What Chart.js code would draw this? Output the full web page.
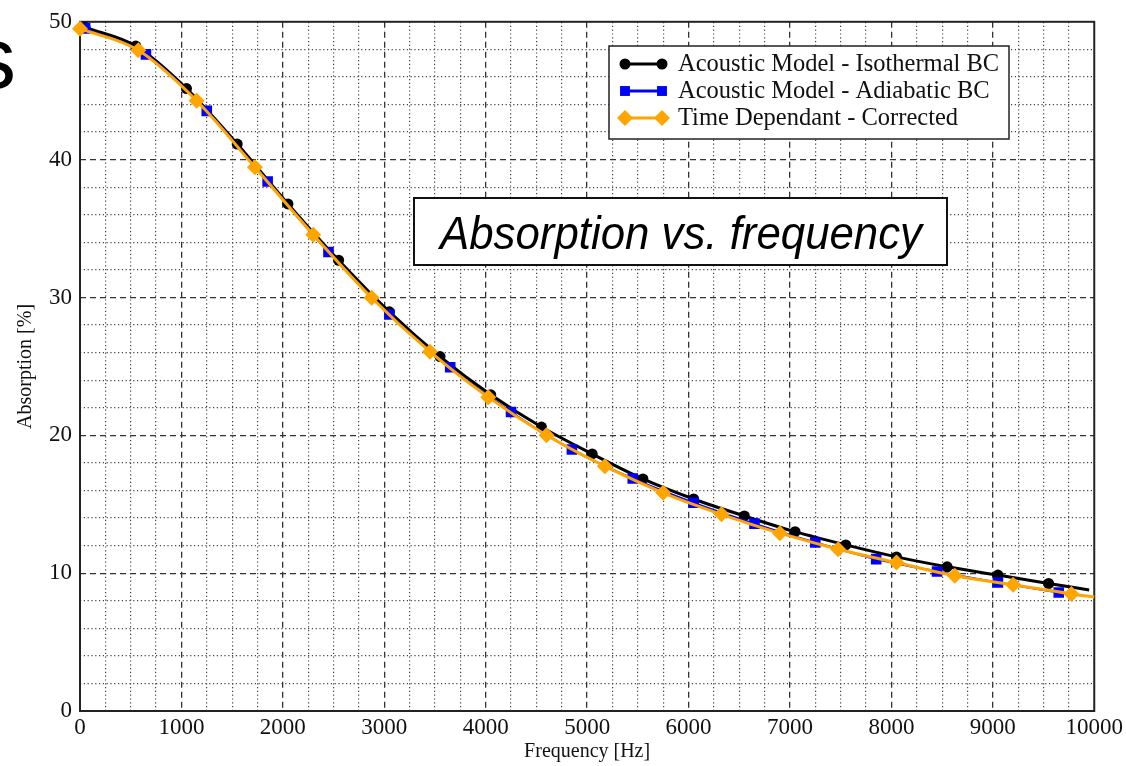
<!DOCTYPE html>
<html>
<head>
<meta charset="utf-8">
<title>Absorption vs. frequency</title>
<script src="https://cdn.jsdelivr.net/npm/chart.js"></script>
<style>
  html, body { margin: 0; padding: 0; background: #fff; }
  #wrap { width: 1126px; height: 766px; position: relative; }
</style>
</head>
<body>
<div id="wrap"><canvas id="absorption-chart"></canvas></div>
<script>
// Acoustic model, isothermal boundary condition
const isoFreq = [50, 550, 1050, 1550, 2050, 2550, 3050, 3550, 4050, 4550, 5050, 5550, 6050, 6550, 7050, 7550, 8050, 8550, 9050, 9550, 9950]
const isoAbs = [49.6, 48.24, 45.16, 41.13, 36.79, 32.7, 28.96, 25.71, 22.94, 20.6, 18.65, 16.84, 15.38, 14.15, 13.01, 12.05, 11.18, 10.46, 9.86, 9.25, 8.78]

// Acoustic model, adiabatic boundary condition
const adiaFreq = [50, 650, 1250, 1850, 2450, 3050, 3650, 4250, 4850, 5450, 6050, 6650, 7250, 7850, 8450, 9050, 9650]
const adiaAbs = [49.52, 47.64, 43.54, 38.41, 33.3, 28.77, 24.94, 21.69, 18.97, 16.87, 15.11, 13.59, 12.22, 11.02, 10.12, 9.32, 8.6]

// Time dependant solver, corrected
const timeFreq = [0, 575, 1150, 1725, 2300, 2875, 3450, 4025, 4600, 5175, 5750, 6325, 6900, 7475, 8050, 8625, 9200, 9775, 10000]
const timeAbs = [49.5, 47.93, 44.27, 39.45, 34.55, 29.98, 26.07, 22.77, 20.0, 17.76, 15.83, 14.27, 12.9, 11.74, 10.77, 9.81, 9.16, 8.49, 8.27]

const seriesNames = ["Acoustic Model - Isothermal BC", "Acoustic Model - Adiabatic BC", "Time Dependant - Corrected"]
const freqTicks = [0, 1000, 2000, 3000, 4000, 5000, 6000, 7000, 8000, 9000, 10000]
const absTicks = [0, 10, 20, 30, 40, 50]

const SERIF = "'Liberation Serif', 'Times New Roman', serif"

function toPoints(xs, ys) {
  return xs.map((x, i) => ({ x: x, y: ys[i] }))
}

// markers on every point except a trailing line end
function radii(xs, r, lastHidden) {
  return xs.map((x, i) => (lastHidden && i === xs.length - 1 ? 0 : r))
}

// plot frame drawn round the whole chart area
const framePlugin = {
  id: "frame",
  beforeDatasetsDraw(chart) {
    const { ctx, chartArea: a } = chart
    ctx.save()
    ctx.strokeStyle = "#222"
    ctx.lineWidth = 2
    ctx.strokeRect(a.left, a.top, a.right - a.left, a.bottom - a.top)
    ctx.restore()
  },
}

// boxed legend with a line sample and a marker at each end
const legendBoxPlugin = {
  id: "legendBox",
  afterDatasetsDraw(chart) {
    const ctx = chart.ctx
    const box = { x: 609, y: 46, w: 400, h: 93 }
    ctx.save()
    ctx.fillStyle = "#fff"
    ctx.fillRect(box.x, box.y, box.w, box.h)
    ctx.strokeStyle = "#222"
    ctx.lineWidth = 1.5
    ctx.strokeRect(box.x, box.y, box.w, box.h)

    ctx.font = "24.5px " + SERIF
    ctx.textBaseline = "middle"
    chart.data.datasets.forEach((ds, i) => {
      const y = 64 + i * 27
      ctx.strokeStyle = ds.borderColor
      ctx.fillStyle = ds.pointBackgroundColor
      ctx.lineWidth = 3
      ctx.beginPath()
      ctx.moveTo(625, y)
      ctx.lineTo(662, y)
      ctx.stroke()
      const opts = { pointStyle: ds.pointStyle, radius: ds.legendRadius, rotation: 0, borderWidth: 0 }
      Chart.helpers.drawPoint(ctx, opts, 625, y)
      Chart.helpers.drawPoint(ctx, opts, 662, y)
      ctx.fillStyle = "#111"
      ctx.fillText(ds.label, 678, y + 1)
    })
    ctx.restore()
  },
}

// caption box in the middle of the plot and the heading fragment at the top left
const captionPlugin = {
  id: "caption",
  afterDraw(chart) {
    const ctx = chart.ctx
    ctx.save()
    ctx.fillStyle = "#fff"
    ctx.fillRect(414, 198, 533, 67)
    ctx.strokeStyle = "#111"
    ctx.lineWidth = 2
    ctx.strokeRect(414, 198, 533, 67)

    const text = "Absorption vs. frequency"
    ctx.font = "italic 46px 'Liberation Sans', Arial, sans-serif"
    const w = ctx.measureText(text).width
    ctx.fillStyle = "#000"
    ctx.textBaseline = "alphabetic"
    ctx.translate(440, 249)
    ctx.scale(482 / w, 1)
    ctx.fillText(text, 0, 0)
    ctx.restore()

    ctx.save()
    ctx.fillStyle = "#000"
    ctx.font = "88px 'Liberation Sans', Arial, sans-serif"
    ctx.textBaseline = "alphabetic"
    ctx.textAlign = "right"
    ctx.fillText("s", 16, 88)
    ctx.restore()
  },
}

const ctx = document.getElementById("absorption-chart").getContext("2d")

new Chart(ctx, {
  type: "line",
  data: {
    datasets: [
      {
        label: seriesNames[0],
        data: toPoints(isoFreq, isoAbs),
        borderColor: "#000",
        backgroundColor: "#000",
        pointBackgroundColor: "#000",
        pointBorderWidth: 0,
        borderWidth: 3,
        pointStyle: "circle",
        pointRadius: radii(isoFreq, 5.5, true),
        legendRadius: 5.5,
        cubicInterpolationMode: "monotone",
        order: 3,
      },
      {
        label: seriesNames[1],
        data: toPoints(adiaFreq, adiaAbs),
        borderColor: "#0000ff",
        backgroundColor: "#0000ff",
        pointBackgroundColor: "#0000ff",
        pointBorderWidth: 0,
        borderWidth: 2,
        pointStyle: "rect",
        pointRadius: radii(adiaFreq, 7.5, false),
        legendRadius: 7,
        cubicInterpolationMode: "monotone",
        order: 2,
      },
      {
        label: seriesNames[2],
        data: toPoints(timeFreq, timeAbs),
        borderColor: "#ffa500",
        backgroundColor: "#ffa500",
        pointBackgroundColor: "#ffa500",
        pointBorderWidth: 0,
        borderWidth: 3,
        pointStyle: "rectRot",
        pointRadius: radii(timeFreq, 8, true),
        legendRadius: 8,
        cubicInterpolationMode: "monotone",
        clip: false,
        order: 1,
      },
    ],
  },
  options: {
    responsive: true,
    maintainAspectRatio: false,
    animation: false,
    layout: { padding: { left: 0, top: 19, right: 31, bottom: 0 } },
    plugins: {
      legend: { display: false },
      tooltip: { enabled: false },
    },
    scales: {
      x: {
        type: "linear",
        position: "bottom",
        min: 0,
        max: 10000,
        afterBuildTicks: (scale) => {
          scale.ticks = freqTicks.map((v) => ({ value: v }))
        },
        ticks: {
          color: "#111",
          font: { family: SERIF, size: 23 },
          padding: 3,
          maxRotation: 0,
          autoSkip: false,
          callback: (v) => String(v),
        },
        grid: {
          drawTicks: false,
          lineWidth: 1.3,
          color: (c) => (c.tick && (c.tick.value === 0 || c.tick.value === 10000) ? "rgba(0,0,0,0)" : "#333"),
        },
        border: { display: false, dash: [6, 4] },
        title: {
          display: true,
          text: "Frequency [Hz]",
          color: "#111",
          font: { family: SERIF, size: 20 },
          padding: { top: 0, bottom: 2 },
        },
        afterFit: (scale) => {
          scale.height = 55
        },
      },
      xMinor: {
        type: "linear",
        position: "top",
        min: 0,
        max: 10000,
        ticks: { display: false, stepSize: 250 },
        grid: {
          drawTicks: false,
          lineWidth: 1.2,
          color: (c) => (c.tick && c.tick.value % 1000 === 0 ? "rgba(0,0,0,0)" : "#444"),
        },
        border: { display: false, dash: [1.2, 2.6] },
        afterFit: (scale) => {
          scale.height = 0
        },
      },
      y: {
        type: "linear",
        position: "left",
        min: 0,
        max: 50,
        afterBuildTicks: (scale) => {
          scale.ticks = absTicks.map((v) => ({ value: v }))
        },
        ticks: {
          color: "#111",
          font: { family: SERIF, size: 23 },
          padding: 8,
          callback: (v) => String(v),
        },
        grid: {
          drawTicks: false,
          lineWidth: 1.3,
          color: (c) => (c.tick && (c.tick.value === 0 || c.tick.value === 50) ? "rgba(0,0,0,0)" : "#333"),
        },
        border: { display: false, dash: [6, 4] },
        title: {
          display: true,
          text: "Absorption [%]",
          color: "#111",
          font: { family: SERIF, size: 20 },
          padding: { top: 14, bottom: 0 },
        },
        afterFit: (scale) => {
          scale.width = 80
        },
      },
      yMinor: {
        type: "linear",
        position: "right",
        min: 0,
        max: 50,
        ticks: { display: false, stepSize: 2 },
        grid: {
          drawTicks: false,
          lineWidth: 1.2,
          color: (c) => (c.tick && c.tick.value % 10 === 0 ? "rgba(0,0,0,0)" : "#444"),
        },
        border: { display: false, dash: [1.2, 2.6] },
        afterFit: (scale) => {
          scale.width = 0
        },
      },
    },
  },
  plugins: [framePlugin, legendBoxPlugin, captionPlugin],
})
</script>
</body>
</html>
